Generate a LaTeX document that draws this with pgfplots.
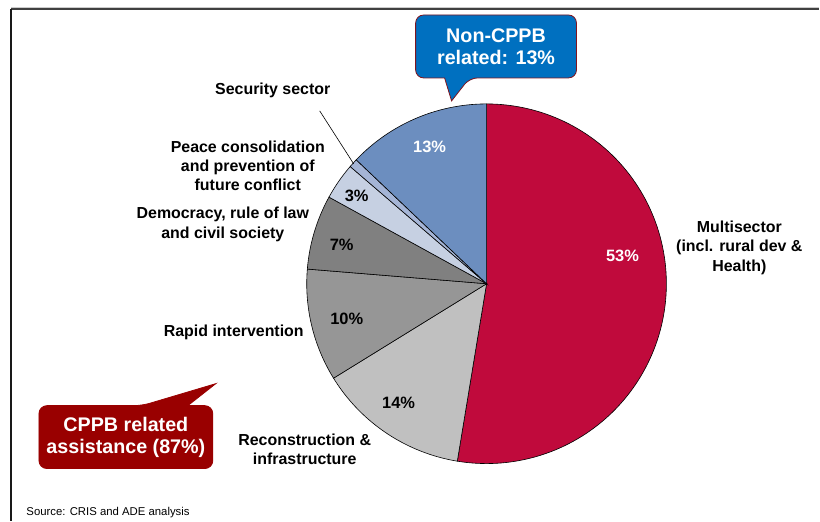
\documentclass[border=0pt]{standalone}
\usepackage{pgfplots}
\pgfplotsset{compat=1.18}
\usepackage{fontspec}
\setmainfont{Liberation Sans}
\definecolor{multi}{RGB}{192,10,60}
\definecolor{recon}{RGB}{192,192,192}
\definecolor{rapid}{RGB}{150,150,150}
\definecolor{democ}{RGB}{128,128,128}
\definecolor{peace}{RGB}{198,208,226}
\definecolor{secur}{RGB}{165,181,214}
\definecolor{noncp}{RGB}{108,142,191}
\definecolor{callblue}{RGB}{0,112,192}
\definecolor{callred}{RGB}{153,0,0}
\definecolor{callborder}{RGB}{128,20,30}
\newcommand\lab{\fontsize{16}{19.5}\selectfont\bfseries}
\newcommand\pct{\fontsize{16.5}{19}\selectfont\bfseries}
\newcommand\call{\fontsize{19.8}{22}\selectfont\bfseries}
\begin{document}
\begin{tikzpicture}
\begin{axis}[width=820bp,height=521bp,scale only axis,
  xmin=0,xmax=820,ymin=0,ymax=521,y dir=reverse,hide axis,clip=false]
\addplot[draw=none,forget plot] coordinates {(0,0) (820,521)};
% frame
\draw[line width=1.2bp,black!20] (11,7.8) -- (820,7.8);
\draw[line width=1.5bp,black!75] (11,9.2) -- (820,9.2);
\draw[line width=1.5bp,black!90] (11,9) -- (11,521);
% pie slices: cumulative percentages 0, 52.6, 66.2, 76.3, 83.0, 86.3, 87.1, 100
\addplot[fill=multi,draw=black,line width=0.6bp,domain=0:52.6,samples=120,variable=\t]
  ({487+180*sin(3.6*\t)},{284-180*cos(3.6*\t)}) -- (487,284) -- cycle;
\addplot[fill=recon,draw=black,line width=0.6bp,domain=52.6:66.2,samples=40,variable=\t]
  ({487+180*sin(3.6*\t)},{284-180*cos(3.6*\t)}) -- (487,284) -- cycle;
\addplot[fill=rapid,draw=black,line width=0.6bp,domain=66.2:76.3,samples=30,variable=\t]
  ({487+180*sin(3.6*\t)},{284-180*cos(3.6*\t)}) -- (487,284) -- cycle;
\addplot[fill=democ,draw=black,line width=0.6bp,domain=76.3:83.0,samples=25,variable=\t]
  ({487+180*sin(3.6*\t)},{284-180*cos(3.6*\t)}) -- (487,284) -- cycle;
\addplot[fill=peace,draw=black,line width=0.6bp,domain=83.0:86.3,samples=15,variable=\t]
  ({487+180*sin(3.6*\t)},{284-180*cos(3.6*\t)}) -- (487,284) -- cycle;
\addplot[fill=secur,draw=black,line width=0.6bp,domain=86.3:87.1,samples=6,variable=\t]
  ({487+180*sin(3.6*\t)},{284-180*cos(3.6*\t)}) -- (487,284) -- cycle;
\addplot[fill=noncp,draw=black,line width=0.6bp,domain=87.1:100,samples=40,variable=\t]
  ({487+180*sin(3.6*\t)},{284-180*cos(3.6*\t)}) -- (487,284) -- cycle;
% percent labels
\node[white,font=\pct] at (623,256) {53\%};
\node[font=\pct] at (399,403) {14\%};
\node[font=\pct] at (347,319) {10\%};
\node[font=\pct] at (342,245) {7\%};
\node[font=\pct] at (357,196) {3\%};
\node[white,font=\pct] at (430,147) {13\%};
% category labels
\node[font=\lab,align=center] at (740,248) {Multisector\\(incl. rural dev \&\\Health)};
\node[font=\lab,align=center] at (305,450) {Reconstruction \&\\infrastructure};
\node[font=\lab,align=center] at (234,333) {Rapid intervention};
\node[font=\lab,align=center] at (223,224.5) {Democracy, rule of law\\and civil society};
\node[font=\lab,align=center] at (248,166) {Peace consolidation\\and prevention of\\future conflict};
\node[font=\lab,align=center] at (273,90) {Security sector};
\draw[line width=0.6bp] (320,111) -- (354,164);
% callouts
\filldraw[fill=callblue,draw=callborder,line width=0.8bp,rounded corners=8bp]
  (416,15) -- (577,15) -- (577,78) -- (470,78) [sharp corners] -- (452,101) -- (445,78) [rounded corners=8bp] -- (416,78) -- cycle;
\node[white,font=\call,align=center] at (496.5,47) {Non-CPPB\\related: 13\%};
\filldraw[fill=callred,draw=callred,line width=0.8bp,rounded corners=8bp]
  (39,406) -- (142,406) [sharp corners] -- (216,384) -- (188,406) [rounded corners=8bp] -- (213,406) -- (213,469) -- (39,469) -- cycle;
\node[white,font=\call,align=center] at (126,437.5) {CPPB related\\assistance (87\%)};
\node[anchor=west,font=\fontsize{11.4}{13}\selectfont] at (23,513) {Source: CRIS and ADE analysis};
\end{axis}
\end{tikzpicture}
\end{document}
